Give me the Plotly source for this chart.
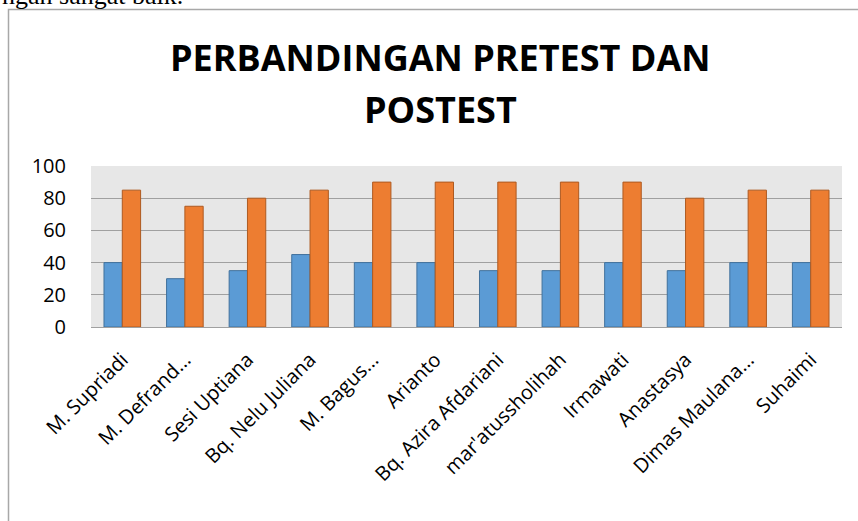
import plotly.graph_objects as go

categories = ["M. Supriadi", "M. Defrand...", "Sesi Uptiana", "Bq. Nelu Juliana", "M. Bagus...",
              "Arianto", "Bq. Azira Afdariani", "mar'atussholihah", "Irmawati", "Anastasya",
              "Dimas Maulana...", "Suhaimi"]
pretest = [40, 30, 35, 45, 40, 40, 35, 35, 40, 35, 40, 40]
posttest = [85, 75, 80, 85, 90, 90, 90, 90, 90, 80, 85, 85]
y_ticks = [0, 20, 40, 60, 80, 100]
title_lines = ["PERBANDINGAN PRETEST DAN", "POSTEST"]

W, H = 858, 521
L, R, T, B = 91, 16, 166, 194
pw, ph = W - L - R, H - T - B


def px(x):
    return (x - L) / pw


def py(y):
    return (H - B - y) / ph


fig = go.Figure()
fig.add_trace(go.Bar(x=categories, y=pretest, name="Pretest",
                     marker=dict(color="#5B9BD5", line=dict(color="#41719C", width=1))))
fig.add_trace(go.Bar(x=categories, y=posttest, name="Posttest",
                     marker=dict(color="#ED7D31", line=dict(color="#AE5A21", width=1))))

fig.update_layout(
    width=W, height=H,
    margin=dict(l=L, r=R, t=T, b=B, autoexpand=False),
    paper_bgcolor="white",
    plot_bgcolor="#E7E7E7",
    barmode="group", bargap=0.415, bargroupgap=0,
    showlegend=False,
    font=dict(family="Open Sans", color="black"),
)
fig.update_yaxes(range=[0, 100], tickvals=y_ticks, showgrid=True, gridcolor="#A0A0A0", gridwidth=1.2,
                 zeroline=False, showline=False, ticks="", ticklabelstandoff=24,
                 tickfont=dict(size=20, family="Open Sans"))
fig.update_xaxes(tickangle=-45, showline=True, linecolor="#A0A0A0", linewidth=1.2,
                 ticks="", ticklabelstandoff=12, tickfont=dict(size=20, family="Open Sans"))

for line, yc in zip(title_lines, [57.5, 109.5]):
    fig.add_annotation(text="<b>" + line + "</b>", xref="paper", yref="paper",
                       x=px(440), y=py(yc), xanchor="center", yanchor="middle", showarrow=False,
                       font=dict(size=36, family="Open Sans", color="black"))
fig.add_annotation(text="ngan sangat baik.", xref="paper", yref="paper",
                   x=px(0), y=py(12), xanchor="left", yanchor="bottom", showarrow=False,
                   font=dict(size=26, family="Liberation Serif", color="black"))
fig.add_shape(type="rect", xref="paper", yref="paper", x0=px(8.5), x1=px(900), y0=py(600), y1=py(9.5),
              line=dict(color="#A8A8A8", width=1.5), fillcolor="rgba(0,0,0,0)", layer="below")

fig.write_html("out.html", config={"displayModeBar": False},
               post_script="document.body.style.margin='0';document.body.style.overflow='hidden';")
